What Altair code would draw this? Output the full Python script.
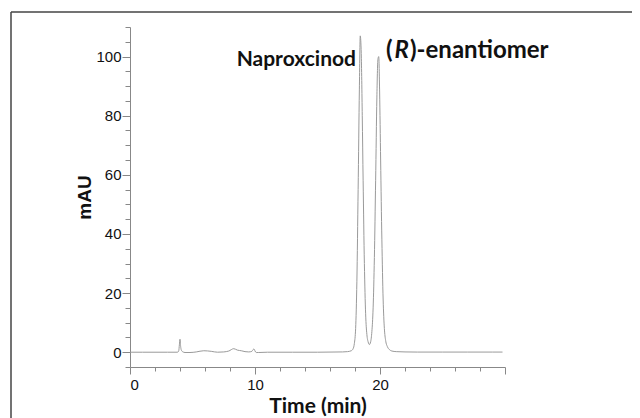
import altair as alt
import pandas as pd

# chromatogram trace
time_min = [0, 1, 2, 3, 3.8, 3.9, 3.95, 4.0, 4.05, 4.1, 4.2, 4.4, 4.8, 5.3, 5.9, 6.5, 7.0, 7.5,
            7.9, 8.3, 8.6, 8.9, 9.2, 9.5, 9.75, 9.85, 9.92, 10.0, 10.1, 10.3, 11, 12, 13, 14, 15,
            16, 17, 17.4, 17.7, 17.85, 17.95, 18.05, 18.15, 18.25, 18.35, 18.42, 18.5, 18.58,
            18.65, 18.75, 18.85, 18.95, 19.05, 19.15, 19.25, 19.35, 19.45, 19.55, 19.65, 19.75,
            19.83, 19.9, 19.97, 20.05, 20.15, 20.25, 20.35, 20.45, 20.6, 20.75, 20.95, 21.3, 22,
            23, 24, 25, 26, 27, 28, 29, 29.8]
mau = [0, 0, 0, 0, 0, 0.5, 2.5, 4.4, 2.0, 0.8, 0.2, -0.1, -0.1, 0.1, 0.5, 0.3, 0.0, 0.1,
       0.4, 1.2, 0.7, 0.5, 0.2, 0.1, 0.3, 0.9, 1.1, 0.4, -0.1, -0.1, 0, 0, 0, 0, 0,
       0.05, 0.1, 0.2, 0.5, 1.2, 3.0, 8.0, 24, 55, 89, 107, 101, 80,
       58, 30, 13, 6, 3.5, 2.6, 3.5, 7, 15, 32, 58, 86,
       99, 100, 88, 65, 38, 18, 8, 4, 1.8, 0.9, 0.4, 0.2, 0.1,
       0.05, 0.05, 0.05, 0.05, 0.05, 0.05, 0.05, 0.05]

x_ticks = list(range(0, 31, 2))
y_ticks = list(range(-5, 111, 5))

df = pd.DataFrame({"t": time_min, "v": mau})

x_axis = alt.Axis(
    values=x_ticks, labelExpr="datum.value % 10 === 0 && datum.value < 30 ? datum.label : ''",
    tickSize={"condition": {"test": "datum.value % 10 === 0", "value": 7}, "value": 4},
    grid=False, domainColor="#888888", tickColor="#888888", labelColor="#111111",
    labelFont="Liberation Sans", labelFontSize=15, labelPadding=3, labelOverlap=False,
    title="Time (min)", titleFont="Lato", titleFontSize=21, titleFontWeight="bold",
    titleColor="#111111", titlePadding=3,
)
y_axis = alt.Axis(
    values=y_ticks, labelExpr="datum.value % 20 === 0 && datum.value >= 0 ? datum.label : ''",
    tickSize={"condition": {"test": "datum.value % 20 === 0", "value": 8}, "value": 5},
    grid=False, domainColor="#888888", tickColor="#888888", labelColor="#111111",
    labelFont="Liberation Sans", labelFontSize=15, labelPadding=1, labelOverlap=False,
    title="mAU", titleFont="Liberation Sans", titleFontSize=19, titleFontWeight="bold",
    titleColor="#111111", titlePadding=1,
)

line = alt.Chart(df).mark_line(color="#9a9a9a", strokeWidth=1, interpolate="monotone").encode(
    x=alt.X("t:Q", scale=alt.Scale(domain=[0, 30], nice=False, zero=False), axis=x_axis),
    y=alt.Y("v:Q", scale=alt.Scale(domain=[-5, 110], nice=False, zero=False), axis=y_axis),
)

font_a = dict(font="Lato", fontSize=21, fontWeight="bold", color="#111111", baseline="alphabetic")
font_b = dict(font="Lato", fontSize=24, fontWeight="bold", color="#111111", baseline="alphabetic")
naprox = alt.Chart(pd.DataFrame({"s": ["Naproxcinod"]})).mark_text(align="right", **font_a).encode(
    x=alt.value(226), y=alt.value(39), text="s:N")
p_open = alt.Chart(pd.DataFrame({"s": ["("]})).mark_text(align="left", **font_b).encode(
    x=alt.value(256), y=alt.value(31), text="s:N")
p_r = alt.Chart(pd.DataFrame({"s": ["R"]})).mark_text(align="left", fontStyle="italic", **font_b).encode(
    x=alt.value(264.5), y=alt.value(31), text="s:N")
p_rest = alt.Chart(pd.DataFrame({"s": [")-enantiomer"]})).mark_text(align="left", **font_b).encode(
    x=alt.value(280), y=alt.value(31), text="s:N")

frame_left = alt.Chart(pd.DataFrame({"a": [0]})).mark_rule(color="#444444", strokeWidth=1.5).encode(
    x=alt.value(-119), y=alt.value(-15), y2=alt.value(420))
frame_top = alt.Chart(pd.DataFrame({"a": [0]})).mark_rule(color="#444444", strokeWidth=1.5).encode(
    x=alt.value(-119), x2=alt.value(520), y=alt.value(-15))

chart = alt.layer(line, naprox, p_open, p_r, p_rest, frame_left, frame_top).properties(
    width=375, height=340,
    autosize=alt.AutoSizeParams(type="none"),
    padding={"left": 122, "top": 19, "right": 127, "bottom": 51},
).configure_view(stroke=None)

chart.save("out.html", embed_options={"renderer": "svg", "actions": False})
